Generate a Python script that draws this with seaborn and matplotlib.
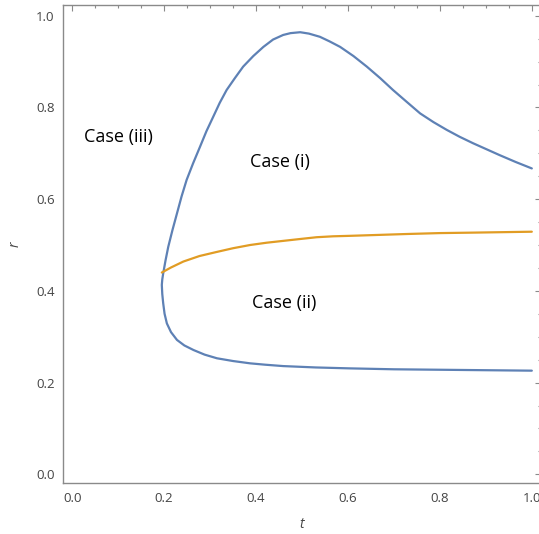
import matplotlib
matplotlib.use("Agg")
import matplotlib.pyplot as plt
import seaborn as sns
import pandas as pd
from matplotlib.ticker import MultipleLocator, FormatStrFormatter

# Blue boundary curve, traced from upper-right end around to lower-right end
blue_t = [1.0, 0.965, 0.930, 0.901, 0.872, 0.843, 0.815, 0.786, 0.757, 0.728,
          0.698, 0.670, 0.641, 0.612, 0.583, 0.560, 0.539, 0.515, 0.496, 0.475,
          0.459, 0.437, 0.416, 0.394, 0.372, 0.354, 0.336, 0.321, 0.307, 0.292,
          0.278, 0.263, 0.249, 0.238, 0.228, 0.218, 0.209, 0.203, 0.198, 0.196,
          0.195, 0.196, 0.198, 0.201, 0.206, 0.215, 0.228, 0.244, 0.264, 0.288,
          0.315, 0.350, 0.387, 0.420, 0.459, 0.530, 0.604, 0.700, 0.800, 0.900, 1.0]
blue_r = [0.667, 0.681, 0.696, 0.709, 0.722, 0.736, 0.751, 0.768, 0.787, 0.812,
          0.838, 0.864, 0.889, 0.912, 0.932, 0.944, 0.954, 0.961, 0.964, 0.962,
          0.958, 0.948, 0.932, 0.912, 0.889, 0.864, 0.838, 0.810, 0.780, 0.748,
          0.714, 0.678, 0.642, 0.606, 0.569, 0.532, 0.496, 0.466, 0.438, 0.425,
          0.413, 0.393, 0.373, 0.350, 0.329, 0.310, 0.293, 0.281, 0.271, 0.261,
          0.253, 0.247, 0.242, 0.239, 0.236, 0.233, 0.231, 0.229, 0.228, 0.227, 0.226]

# Orange curve
orange_t = [0.195, 0.215, 0.242, 0.277, 0.315, 0.350, 0.387, 0.423, 0.459, 0.495,
            0.532, 0.568, 0.604, 0.666, 0.728, 0.800, 0.872, 0.936, 1.0]
orange_r = [0.440, 0.451, 0.464, 0.476, 0.485, 0.493, 0.500, 0.505, 0.509, 0.513,
            0.517, 0.519, 0.520, 0.522, 0.524, 0.526, 0.527, 0.528, 0.529]

labels = ["Case (iii)", "Case (i)", "Case (ii)"]
label_t = [0.100, 0.452, 0.461]
label_r = [0.736, 0.681, 0.373]

sns.set_style("white")
plt.rcParams["font.family"] = ["Open Sans", "DejaVu Sans"]

fig = plt.figure(figsize=(5.39, 5.34), dpi=100)
ax = fig.add_axes([63 / 539, (534 - 483.3) / 534, (541 - 63) / 539, (483.3 - 5.3) / 534])

blue_df = pd.DataFrame({"t": blue_t, "r": blue_r})
orange_df = pd.DataFrame({"t": orange_t, "r": orange_r})

sns.lineplot(data=blue_df, x="t", y="r", sort=False, estimator=None, ax=ax,
             color="#5E81B5", linewidth=1.6)
sns.lineplot(data=orange_df, x="t", y="r", sort=False, estimator=None, ax=ax,
             color="#E19C24", linewidth=1.6)

for s, x, y in zip(labels, label_t, label_r):
    ax.text(x, y, s, ha="center", va="center", fontsize=13, color="black")

ax.set_xlim(-0.02, 1.02)
ax.set_ylim(-0.0196, 1.0227)
ax.xaxis.set_major_locator(MultipleLocator(0.2))
ax.xaxis.set_minor_locator(MultipleLocator(0.05))
ax.yaxis.set_major_locator(MultipleLocator(0.2))
ax.yaxis.set_minor_locator(MultipleLocator(0.05))
ax.xaxis.set_major_formatter(FormatStrFormatter("%.1f"))
ax.yaxis.set_major_formatter(FormatStrFormatter("%.1f"))

frame_col = "#8a8a8a"
for sp in ax.spines.values():
    sp.set_visible(True)
    sp.set_color(frame_col)
    sp.set_linewidth(1.0)

ax.tick_params(which="both", direction="in", top=True, right=True,
               color=frame_col, labelcolor="#444444", width=0.8)
ax.tick_params(which="major", length=4.5, labelsize=9.5, pad=6)
ax.tick_params(which="minor", length=2.5)

ax.set_xlabel("t", fontstyle="italic", fontsize=10, color="#444444", labelpad=9)
ax.set_ylabel("r", fontstyle="italic", fontsize=10, color="#444444", labelpad=10)

fig.savefig("out.png", dpi=100)
